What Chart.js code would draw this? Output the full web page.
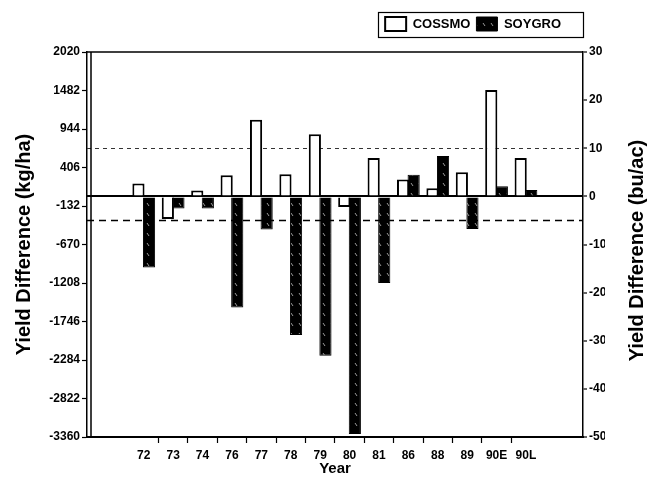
<!DOCTYPE html>
<html><head><meta charset="utf-8">
<script src="https://cdn.jsdelivr.net/npm/chart.js@4.4.1/dist/chart.umd.min.js"></script>
<style>html,body{margin:0;padding:0;background:#fff}canvas{display:block}</style>
</head><body>
<canvas id="c" width="647" height="483"></canvas>
<script>
// ---- data (values in bu/ac) ----
const years  = ['72','73','74','76','77','78','79','80','81','86','88','89','90E','90L'];
const cossmo = [2.7, -4.7, 1.2, 4.4, 15.9, 4.6, 12.9, -2.2, 8.0, 3.5, 1.7, 5.0, 22.1, 8.0];
const soygro = [-14.8, -2.5, -2.5, -23.1, -6.9, -28.8, -33.1, -49.4, -18.0, 4.5, 8.4, -6.8, 2.1, 1.3];
const leftTicks = [2020, 1482, 944, 406, -132, -670, -1208, -1746, -2284, -2822, -3360];
const rightMin = -50, rightMax = 30, rightStep = 10;
const refLines = [10, -5];
const leftTitle = 'Yield Difference (kg/ha)';
const rightTitle = 'Yield Difference (bu/ac)';
const xTitle = 'Year';

const FONT = '"Liberation Sans", Arial, Helvetica, sans-serif';
Chart.defaults.font.family = FONT;
Chart.defaults.font.weight = 'bold';
Chart.defaults.color = '#000';

const canvas = document.getElementById('c');
const mainCtx = canvas.getContext('2d');
function hatch() {
  const c = document.createElement('canvas'); c.width = 8; c.height = 10;
  const g = c.getContext('2d');
  g.fillStyle = '#000'; g.fillRect(0, 0, 8, 10);
  g.strokeStyle = 'rgba(255,255,255,0.6)'; g.lineWidth = 1;
  g.beginPath(); g.moveTo(3, 3); g.lineTo(5, 6); g.stroke();
  return mainCtx.createPattern(c, 'repeat');
}

const legendFit = {
  id: 'legendFit',
  beforeInit(chart) {
    const orig = chart.legend.fit;
    chart.legend.fit = function () { orig.call(this); this.height += 11; };
  },
  afterLayout(chart) {
    chart.legend.right = chart.chartArea.right - 16;
  }
};

const decor = {
  id: 'decor',
  beforeDatasetsDraw(chart) {
    const {ctx, chartArea: a, scales} = chart;
    const ys = scales.y1;
    ctx.save();
    refLines.forEach((v, i) => {
      const y = Math.round(ys.getPixelForValue(v)) + 0.5;
      ctx.beginPath();
      ctx.setLineDash(i === 0 ? [4, 4] : [7, 5]);
      ctx.lineWidth = i === 0 ? 1 : 1.6;
      ctx.strokeStyle = i === 0 ? '#333' : '#000';
      ctx.moveTo(a.left, y); ctx.lineTo(a.right, y); ctx.stroke();
    });
    ctx.restore();
  },
  afterDraw(chart) {
    const {ctx, chartArea: a} = chart;
    ctx.save();
    ctx.strokeStyle = '#000';
    ctx.lineWidth = 1.5;
    ctx.beginPath();
    ctx.moveTo(a.left, a.top); ctx.lineTo(a.right, a.top);
    ctx.moveTo(a.left + 4, a.top); ctx.lineTo(a.left + 4, a.bottom);
    ctx.stroke();
    // legend frame
    const hb = chart.legend.legendHitBoxes;
    if (hb && hb.length) {
      const l = hb[0].left - 7, t = hb[0].top - 5;
      const r = a.right, b = hb[0].top + hb[0].height + 6;
      ctx.lineWidth = 1.2;
      ctx.strokeRect(Math.round(l) + 0.5, Math.round(t) + 0.5, Math.round(r - l), Math.round(b - t));
    }
    // right axis title (reads bottom to top)
    ctx.translate(chart.width - 10, (a.top + a.bottom) / 2 + 6);
    ctx.rotate(-Math.PI / 2);
    ctx.font = 'bold 20px ' + FONT;
    ctx.fillStyle = '#000';
    ctx.textAlign = 'center';
    ctx.textBaseline = 'middle';
    ctx.fillText(rightTitle, 0, 0);
    ctx.restore();
  }
};

new Chart(canvas, {
  type: 'bar',
  data: {
    datasets: [
      { label: 'COSSMO', data: cossmo.map((v, i) => ({x: i, y: v})), backgroundColor: '#fff',
        borderColor: '#000', borderWidth: 2, yAxisID: 'y1' },
      { label: 'SOYGRO', data: soygro.map((v, i) => ({x: i, y: v})), backgroundColor: hatch(),
        borderColor: '#000', borderWidth: 1, yAxisID: 'y1' }
    ]
  },
  options: {
    responsive: false,
    animation: false,
    barPercentage: 1.15,
    categoryPercentage: 1.44,
    layout: { padding: { top: 11, left: 2, right: 42, bottom: 0 } },
    plugins: {
      tooltip: { enabled: false },
      legend: {
        position: 'top', align: 'end', fullSize: false,
        labels: { boxWidth: 21, boxHeight: 14, padding: 6, color: '#000',
                  font: { size: 13, weight: 'bold' } }
      }
    },
    scales: {
      x: {
        type: 'linear', min: -1.93, max: 14.94, offset: false,
        afterBuildTicks: s => {
          s.ticks = years.flatMap((_, i) => i === 0 ? [{value: 0}] : [{value: i - 0.5}, {value: i}]);
        },
        afterFit: s => { s.height = 46; },
        ticks: { autoSkip: false, maxRotation: 0, minRotation: 0, padding: 5,
                 font: { size: 12, weight: 'bold' },
                 callback: v => Number.isInteger(v) ? years[v] : '' },
        grid: { offset: false, drawOnChartArea: false, drawTicks: true, tickLength: 6, tickWidth: 1.2,
                tickColor: c => (c.tick && Number.isInteger(c.tick.value)) ? 'rgba(0,0,0,0)' : '#000' },
        border: { display: true, color: '#000', width: 2 },
        title: { display: true, text: xTitle, color: '#000', font: { size: 15, weight: 'bold' },
                 padding: { top: 0, bottom: 5 } }
      },
      y: {
        position: 'left', min: leftTicks[leftTicks.length - 1], max: leftTicks[0],
        afterBuildTicks: s => { s.ticks = leftTicks.map(v => ({value: v})); },
        afterFit: s => { s.width = 85; },
        ticks: { autoSkip: false, padding: 2, font: { size: 12, weight: 'bold' }, callback: v => String(v) },
        grid: { drawOnChartArea: false, tickLength: 5, tickColor: '#000', tickWidth: 1.2 },
        border: { color: '#000', width: 1.5 },
        title: { display: true, text: leftTitle, color: '#000', font: { size: 20, weight: 'bold' },
                 padding: { top: 10, bottom: 0 } }
      },
      y1: {
        position: 'right', min: rightMin, max: rightMax,
        afterFit: s => { s.width = 22; },
        ticks: { stepSize: rightStep, padding: 2, font: { size: 12, weight: 'bold' } },
        grid: { color: c => (c.tick && c.tick.value === 0) ? '#000' : 'rgba(0,0,0,0)', lineWidth: 2,
                tickColor: '#000', tickLength: 4, tickWidth: 1.2 },
        border: { color: '#000', width: 1.5 }
      }
    }
  },
  plugins: [legendFit, decor]
});
</script>
</body></html>
